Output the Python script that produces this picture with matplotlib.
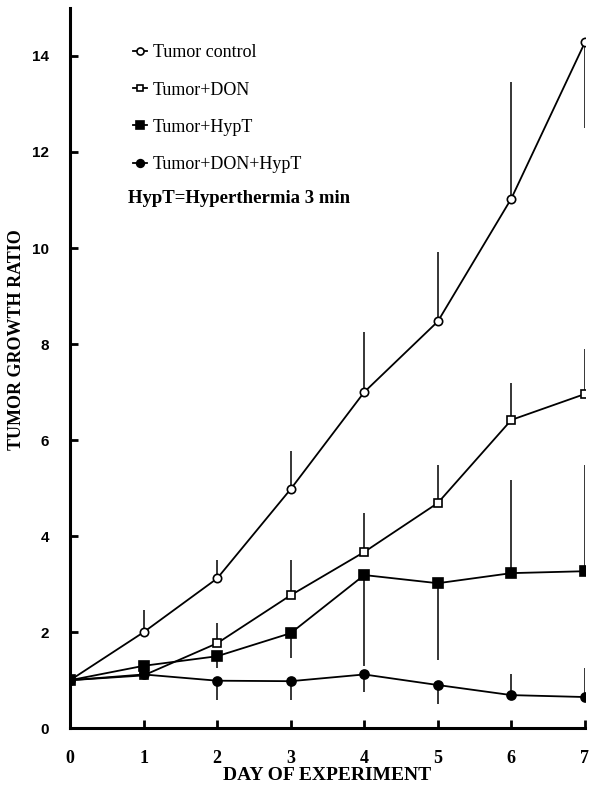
import matplotlib.pyplot as plt
import numpy as np

days = [0, 1, 2, 3, 4, 5, 6, 7]

# Tumor control (open circles)
ctrl = [1.0, 2.0, 3.12, 4.98, 7.0, 8.47, 11.03, 14.28]
ctrl_lo = [0, 0, 0, 0, 0, 0, 0, 1.78]
ctrl_hi = [0, 0.46, 0.38, 0.8, 1.25, 1.45, 2.43, 0]

# Tumor+DON (open squares)
don = [1.0, 1.1, 1.77, 2.77, 3.67, 4.69, 6.42, 6.96]
don_lo = [0, 0, 0, 0, 0, 0, 0, 0]
don_hi = [0, 0, 0.42, 0.73, 0.81, 0.79, 0.77, 0.94]

# Tumor+HypT (filled squares)
hyp = [1.0, 1.3, 1.5, 1.98, 3.19, 3.02, 3.23, 3.27]
hyp_lo = [0, 0, 0.25, 0.52, 1.89, 1.6, 0, 0]
hyp_hi = [0, 0, 0, 0, 0, 0, 1.94, 2.21]

# Tumor+DON+HypT (filled circles)
both = [1.0, 1.12, 0.99, 0.98, 1.12, 0.9, 0.69, 0.65]
both_lo = [0, 0, 0.4, 0.4, 0.37, 0.4, 0, 0]
both_hi = [0, 0, 0, 0, 0, 0, 0.43, 0.6]

labels = ["Tumor control", "Tumor+DON", "Tumor+HypT", "Tumor+DON+HypT"]
note = "HypT=Hyperthermia 3 min"

plt.rcParams['font.family'] = ['Liberation Serif', 'DejaVu Serif']

fig = plt.figure(figsize=(5.89, 7.89), dpi=100)
ax = fig.add_axes([0.119, 0.077, 0.874, 0.913])

series = [
    (ctrl, ctrl_lo, ctrl_hi, 'o', 'white', 6),
    (don, don_lo, don_hi, 's', 'white', 5.5),
    (hyp, hyp_lo, hyp_hi, 's', 'black', 7),
    (both, both_lo, both_hi, 'o', 'black', 6.5),
]
handles = []
for (y, lo, hi, m, fc, ms), lab in zip(series, labels):
    ax.errorbar(days, y, yerr=[lo, hi], fmt='none', ecolor='black',
                elinewidth=1.1, capsize=0, zorder=2)
    h, = ax.plot(days, y, color='black', lw=1.3, marker=m, ms=ms,
                 mfc=fc, mec='black', mew=1.2, zorder=3, label=lab)
    handles.append(h)

leg = ax.legend(handles=handles, loc='upper left', bbox_to_anchor=(0.09, 0.972),
                frameon=False, handlelength=0.8, handletextpad=0.3,
                labelspacing=1.12, fontsize=13, markerscale=0.85)
ax.text(0.113, 0.736, note, transform=ax.transAxes, fontsize=13.5,
        fontweight='bold', va='center', ha='left')

ax.set_xlim(0, 7)
ax.set_ylim(0, 15)
ax.set_xticks(days)
ax.set_yticks(np.arange(0, 15, 2))
ax.set_xticklabels([str(d) for d in days], fontsize=13, fontweight='bold')
ax.set_yticklabels([str(v) for v in range(0, 15, 2)], fontsize=11,
                   fontweight='bold', family='Liberation Sans')
ax.tick_params(axis='both', direction='in', length=6, width=2)
ax.tick_params(axis='x', pad=16)
ax.tick_params(axis='y', pad=15)

for s in ['top', 'right']:
    ax.spines[s].set_visible(False)
for s in ['left', 'bottom']:
    ax.spines[s].set_linewidth(2.2)

ax.set_xlabel("DAY OF EXPERIMENT", fontsize=14, fontweight='bold', labelpad=0)
ax.set_ylabel("TUMOR GROWTH RATIO", fontsize=13, fontweight='bold')
ax.yaxis.set_label_coords(-0.087, 0.54)

fig.savefig("out.png", dpi=100)
